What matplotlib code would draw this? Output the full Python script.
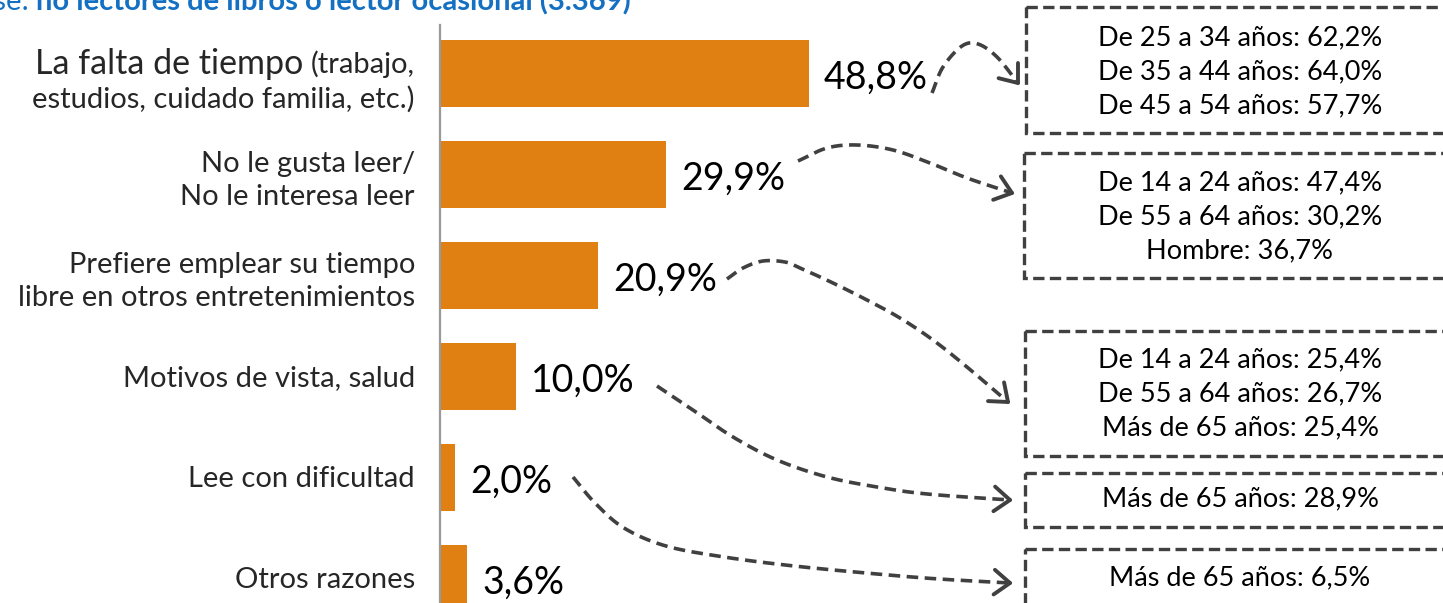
import numpy as np
import matplotlib
matplotlib.use("Agg")
import matplotlib.pyplot as plt
from matplotlib.patches import Rectangle

plt.rcParams['font.family'] = ['Lato', 'DejaVu Sans']

# ---------------- data ----------------
title_light = "Base:"
title_bold = "no lectores de libros o lector ocasional (3.369)"

categories = [
    "La falta de tiempo",
    "No le gusta leer/\nNo le interesa leer",
    "Prefiere emplear su tiempo\nlibre en otros entretenimientos",
    "Motivos de vista, salud",
    "Lee con dificultad",
    "Otros razones",
]
first_note = ["(trabajo,", "estudios, cuidado familia, etc.)"]
values = [48.8, 29.9, 20.9, 10.0, 2.0, 3.6]

box_groups = [
    ["De 25 a 34 años", "De 35 a 44 años", "De 45 a 54 años"],
    ["De 14 a 24 años", "De 55 a 64 años", "Hombre"],
    ["De 14 a 24 años", "De 55 a 64 años", "Más de 65 años"],
    ["Más de 65 años"],
    ["Más de 65 años"],
]
box_values = [
    [62.2, 64.0, 57.7],
    [47.4, 30.2, 36.7],
    [25.4, 26.7, 25.4],
    [28.9],
    [6.5],
]

def fmt(v):
    return f"{v:.1f}".replace(".", ",") + "%"

# ---------------- layout ----------------
W, H = 1443, 603
DPI = 100
BAR = "#E07F12"
DARK = "#404040"
TXT = "#262626"
PX = 72.0 / DPI  # points per pixel

fig = plt.figure(figsize=(W / DPI, H / DPI), dpi=DPI)
fig.patch.set_facecolor("white")

axis_px = 440
px_per_unit = 7.56
row0, pitch = 73.5, 101.0
ax = fig.add_axes([axis_px / W, 0, 1 - axis_px / W, 1])
ax.set_xlim(0, (W - axis_px) / px_per_unit)
ax.set_ylim((H - row0) / pitch, -row0 / pitch)
ax.axis("off")

ypos = np.arange(len(values))
ax.barh(ypos, values, height=0.665, color=BAR, zorder=2)
ax.plot([0, 0], [(25 - row0) / pitch, (H + 10 - row0) / pitch], color="#9a9a9a", lw=1.6, zorder=3, clip_on=False)

# value labels
for y, v in zip(ypos, values):
    ax.annotate(fmt(v), xy=(v, y), xytext=(15 * PX, -15.5 * PX), textcoords="offset points",
                ha="left", va="baseline", fontsize=27, color="black")

# category labels
CAT_FS = 21
lab_off = -25 * PX
for y, c in zip(ypos, categories):
    if y == 0:
        continue
    if "\n" in c:
        ax.annotate(c, xy=(0, y), xytext=(lab_off, -6 * PX), textcoords="offset points",
                    ha="right", va="center", fontsize=CAT_FS, color=TXT, linespacing=1.3)
    else:
        ax.annotate(c, xy=(0, y), xytext=(lab_off, -10 * PX), textcoords="offset points",
                    ha="right", va="baseline", fontsize=CAT_FS, color=TXT)

# first label with mixed sizes
t_small = ax.annotate(first_note[0], xy=(0, 0), xytext=(lab_off, 0), textcoords="offset points",
                      ha="right", va="baseline", fontsize=CAT_FS, color=TXT)
fig.canvas.draw()
r = fig.canvas.get_renderer()
wsmall = t_small.get_window_extent(r).width
ax.annotate(categories[0], xy=(0, 0), xytext=(lab_off - (wsmall + 8) * PX, 0), textcoords="offset points",
            ha="right", va="baseline", fontsize=24.5, color=TXT)
ax.annotate(first_note[1], xy=(0, 0), xytext=(lab_off, -34 * PX), textcoords="offset points",
            ha="right", va="baseline", fontsize=CAT_FS, color=TXT)

# ---------------- overlay (boxes, arrows, title) ----------------
ov = fig.add_axes([0, 0, 1, 1], zorder=5)
ov.set_xlim(0, W)
ov.set_ylim(H, 0)
ov.axis("off")
ov.patch.set_alpha(0)

ov.text(29, 10, title_light, ha="right", va="baseline", fontsize=21, color="#1470c2")
ov.text(36, 10, title_bold, ha="left", va="baseline", fontsize=21, fontweight="bold", color="#1470c2")

box_rects = [(1026, 7, 133), (1024, 153, 278), (1025, 331, 456), (1025, 473, 527), (1025, 549, 640)]
text_centers = [72, 217, 394, 499, 578]
for (x0, y0, y1), tc, g, vals in zip(box_rects, text_centers, box_groups, box_values):
    ov.add_patch(Rectangle((x0, y0), 1470 - x0, y1 - y0, fill=False, ec=DARK, lw=2.4,
                           linestyle=(0, (3.4, 1.6)), clip_on=False))
    txt = "\n".join(f"{a}: {fmt(b)}" for a, b in zip(g, vals))
    ov.text(1240, tc, txt, ha="center", va="center", fontsize=19.5, color="black", linespacing=1.45)


def catmull(points, n=24):
    pts = np.array(points, float)
    P = np.vstack([pts[0] - (pts[1] - pts[0]), pts, pts[-1] + (pts[-1] - pts[-2])])
    out = []
    for i in range(1, len(P) - 2):
        p0, p1, p2, p3 = P[i - 1], P[i], P[i + 1], P[i + 2]
        t = np.linspace(0, 1, n, endpoint=False)[:, None]
        seg = 0.5 * ((2 * p1) + (-p0 + p2) * t + (2 * p0 - 5 * p1 + 4 * p2 - p3) * t ** 2
                     + (-p0 + 3 * p1 - 3 * p2 + p3) * t ** 3)
        out.append(seg)
    out.append(pts[-1:])
    return np.vstack(out)


arrow_paths = [
    [(932, 93), (943, 67), (962, 46), (978, 44), (997, 57), (1018, 83)],
    [(798, 161), (827, 148), (857, 145), (893, 150), (930, 163), (967, 178), (1012, 193)],
    [(727, 279), (743, 268), (763, 261), (785, 262), (800, 268), (833, 283), (867, 300),
     (900, 318), (933, 340), (967, 367), (1008, 402)],
    [(657, 386), (693, 410), (733, 437), (777, 460), (827, 477), (877, 487), (927, 494), (1010, 500)],
    [(573, 477), (595, 503), (624, 528), (666, 546), (724, 557), (794, 566), (877, 574), (939, 579), (1010, 583)],
]
for pts in arrow_paths:
    c = catmull(pts)
    ov.plot(c[:, 0], c[:, 1], color=DARK, lw=2.6, linestyle=(0, (3.2, 1.8)),
            dash_capstyle="butt", clip_on=False)
    tip = c[-1]
    back = c[-6]
    u = (tip - back) / np.linalg.norm(tip - back)
    L = 20
    for ang in (np.radians(38), -np.radians(38)):
        R = np.array([[np.cos(ang), -np.sin(ang)], [np.sin(ang), np.cos(ang)]])
        arm = tip - L * (R @ u)
        ov.plot([arm[0], tip[0]], [arm[1], tip[1]], color=DARK, lw=2.8, solid_capstyle="round")

fig.savefig("out.png", dpi=DPI, facecolor="white")
